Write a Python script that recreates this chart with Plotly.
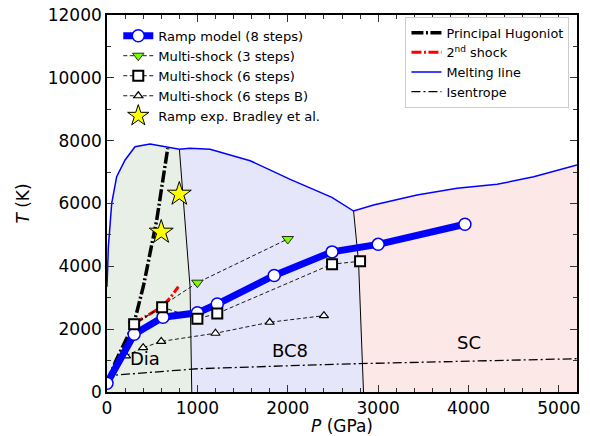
import plotly.graph_objects as go

# ---------------- data ----------------
ramp_P = [0, 300, 620, 1000, 1220, 1850, 2490, 3000, 3960]
ramp_T = [280, 1840, 2380, 2520, 2800, 3710, 4460, 4700, 5340]

ms3_P = [300, 1000, 2000]
ms3_T = [2160, 3480, 4870]

ms6_P = [300, 610, 1000, 1220, 2490, 2800]
ms6_T = [2160, 2700, 2330, 2500, 4070, 4160]

ms6b_P = [210, 400, 600, 1200, 1800, 2400]
ms6b_T = [1150, 1410, 1610, 1870, 2220, 2430]

exp_P = [600, 800]
exp_T = [5090, 6300]

hug_P = [0, 100, 300, 405, 550, 672]
hug_T = [300, 1000, 2200, 3400, 5470, 7760]

shock2_P = [300, 450, 600, 700, 790]
shock2_T = [2180, 2450, 2700, 3000, 3350]

melt_P = [0, 5, 15, 52, 107, 200, 310, 476, 661, 801, 919, 1141, 1584, 2027, 2488, 2728, 2949, 3430, 3873, 4316, 4721, 5200]
melt_T = [3350, 4000, 4625, 6005, 6852, 7384, 7807, 7893, 7807, 7724, 7760, 7724, 7362, 6768, 6197, 5761, 5952, 6270, 6483, 6610, 6852, 7225]

isen_P = [0, 50, 100, 1000, 2600, 5200]
isen_T = [300, 470, 540, 740, 890, 1060]

# phase boundaries (top -> bottom)
db_P = [801, 860, 919, 938]
db_T = [7724, 5500, 3350, 0]
bs_P = [2728, 2783, 2838]
bs_T = [5761, 4147, 0]

phase_names = ["Dia", "BC8", "SC"]
phase_P = [420, 2030, 4000]
phase_T = [1080, 1330, 1560]

X_MAX = 5200
Y_MAX = 12000

# ---------------- build region polygons from the arrays ----------------
i_db = melt_P.index(db_P[0])
i_bs = melt_P.index(bs_P[0])

dia_x = melt_P[:i_db + 1] + db_P[1:] + [0]
dia_y = melt_T[:i_db + 1] + db_T[1:] + [0]

bc8_x = melt_P[i_db:i_bs + 1] + bs_P[1:] + db_P[::-1]
bc8_y = melt_T[i_db:i_bs + 1] + bs_T[1:] + db_T[::-1]

sc_x = melt_P[i_bs:] + [X_MAX] + bs_P[::-1]
sc_y = melt_T[i_bs:] + [0] + bs_T[::-1]

fig = go.Figure()

for xs, ys, col in [(dia_x, dia_y, "#e8efe7"), (bc8_x, bc8_y, "#e6e6fa"), (sc_x, sc_y, "#fde8e8")]:
    fig.add_trace(go.Scatter(x=xs, y=ys, fill="toself", fillcolor=col, mode="none",
                             showlegend=False, hoverinfo="skip"))

# boundaries
fig.add_trace(go.Scatter(x=db_P, y=db_T, mode="lines", line=dict(color="black", width=1),
                         showlegend=False))
fig.add_trace(go.Scatter(x=bs_P, y=bs_T, mode="lines", line=dict(color="black", width=1),
                         showlegend=False))

# legend 2 items
fig.add_trace(go.Scatter(x=hug_P, y=hug_T, mode="lines", name="Principal Hugoniot",
                         line=dict(color="black", width=3.5, dash="12px,2.5px,2px,2.5px"),
                         legend="legend2"))
fig.add_trace(go.Scatter(x=shock2_P, y=shock2_T, mode="lines", name="2<sup>nd</sup> shock",
                         line=dict(color="red", width=3, dash="10px,2.5px,2px,2.5px"),
                         legend="legend2"))
fig.add_trace(go.Scatter(x=melt_P, y=melt_T, mode="lines", name="Melting line",
                         line=dict(color="blue", width=1.5), legend="legend2"))
fig.add_trace(go.Scatter(x=isen_P, y=isen_T, mode="lines", name="Isentrope",
                         line=dict(color="black", width=1.3, dash="9px,3px,2px,3px"),
                         legend="legend2"))

# legend 1 items
fig.add_trace(go.Scatter(x=ms3_P, y=ms3_T, mode="lines+markers", name="Multi-shock (3 steps)",
                         line=dict(color="black", width=0.9, dash="4px,2.5px"),
                         marker=dict(symbol="triangle-down", size=10, color="#7cfc00",
                                     line=dict(color="black", width=0.8)),
                         legend="legend"))
fig.add_trace(go.Scatter(x=ms6b_P, y=ms6b_T, mode="lines+markers", name="Multi-shock (6 steps B)",
                         line=dict(color="black", width=0.9, dash="4px,2.5px"),
                         marker=dict(symbol="triangle-up", size=8, color="white",
                                     line=dict(color="black", width=1.2)),
                         legend="legend"))
fig.add_trace(go.Scatter(x=ramp_P, y=ramp_T, mode="lines+markers", name="Ramp model (8 steps)",
                         line=dict(color="blue", width=7),
                         marker=dict(symbol="circle", size=12, color="white",
                                     line=dict(color="blue", width=1.5)),
                         legend="legend"))
fig.add_trace(go.Scatter(x=ms6_P, y=ms6_T, mode="lines+markers", name="Multi-shock (6 steps)",
                         line=dict(color="black", width=0.9, dash="4px,2.5px"),
                         marker=dict(symbol="square", size=10, color="white",
                                     line=dict(color="black", width=2)),
                         legend="legend"))
fig.add_trace(go.Scatter(x=exp_P, y=exp_T, mode="markers", name="Ramp exp. Bradley et al.",
                         marker=dict(symbol="star", size=18, color="yellow",
                                     line=dict(color="black", width=1)),
                         legend="legend"))

# reorder legend entries
legend_rank = {"Ramp model (8 steps)": 1, "Multi-shock (3 steps)": 2, "Multi-shock (6 steps)": 3,
               "Multi-shock (6 steps B)": 4, "Ramp exp. Bradley et al.": 5,
               "Principal Hugoniot": 1, "2<sup>nd</sup> shock": 2, "Melting line": 3, "Isentrope": 4}
for tr in fig.data:
    if tr.name in legend_rank:
        tr.legendrank = legend_rank[tr.name]

for name, px_, ty in zip(phase_names, phase_P, phase_T):
    fig.add_annotation(x=px_, y=ty, text=name, showarrow=False,
                       font=dict(size=18, color="black"))

axis_common = dict(showline=True, linecolor="black", linewidth=1.6, mirror="allticks",
                   ticks="inside", ticklen=7, tickwidth=1, tickcolor="#333",
                   showgrid=False, zeroline=False, automargin=False, tickformat="d",
                   tickfont=dict(size=17, color="black"))

fig.update_xaxes(range=[0, X_MAX], dtick=1000,
                 title=dict(text="<i>P</i> (GPa)", font=dict(size=17), standoff=0),
                 minor=dict(dtick=200, ticks="inside", ticklen=4, tickcolor="#333", showgrid=False),
                 **axis_common)
fig.update_yaxes(range=[0, Y_MAX], dtick=2000,
                 title=dict(text="<i>T</i> (K)", font=dict(size=17), standoff=14),
                 minor=dict(dtick=1000, ticks="inside", ticklen=4, tickcolor="#333", showgrid=False),
                 **axis_common)

fig.update_layout(
    width=590, height=436,
    margin=dict(l=107, r=13, t=15, b=44),
    plot_bgcolor="white", paper_bgcolor="white",
    font=dict(family="DejaVu Sans", color="black"),
    legend=dict(x=0.024, y=0.985, xanchor="left", yanchor="top", bgcolor="rgba(0,0,0,0)",
                borderwidth=0, font=dict(size=13.1), tracegroupgap=0, itemwidth=30),
    legend2=dict(x=0.635, y=0.995, xanchor="left", yanchor="top", bgcolor="white",
                 bordercolor="#cccccc", borderwidth=1, font=dict(size=12.8), itemwidth=30),
    showlegend=True,
)

fig.write_html("out.html", config={"displayModeBar": False},
               post_script="document.body.style.margin='0';")
